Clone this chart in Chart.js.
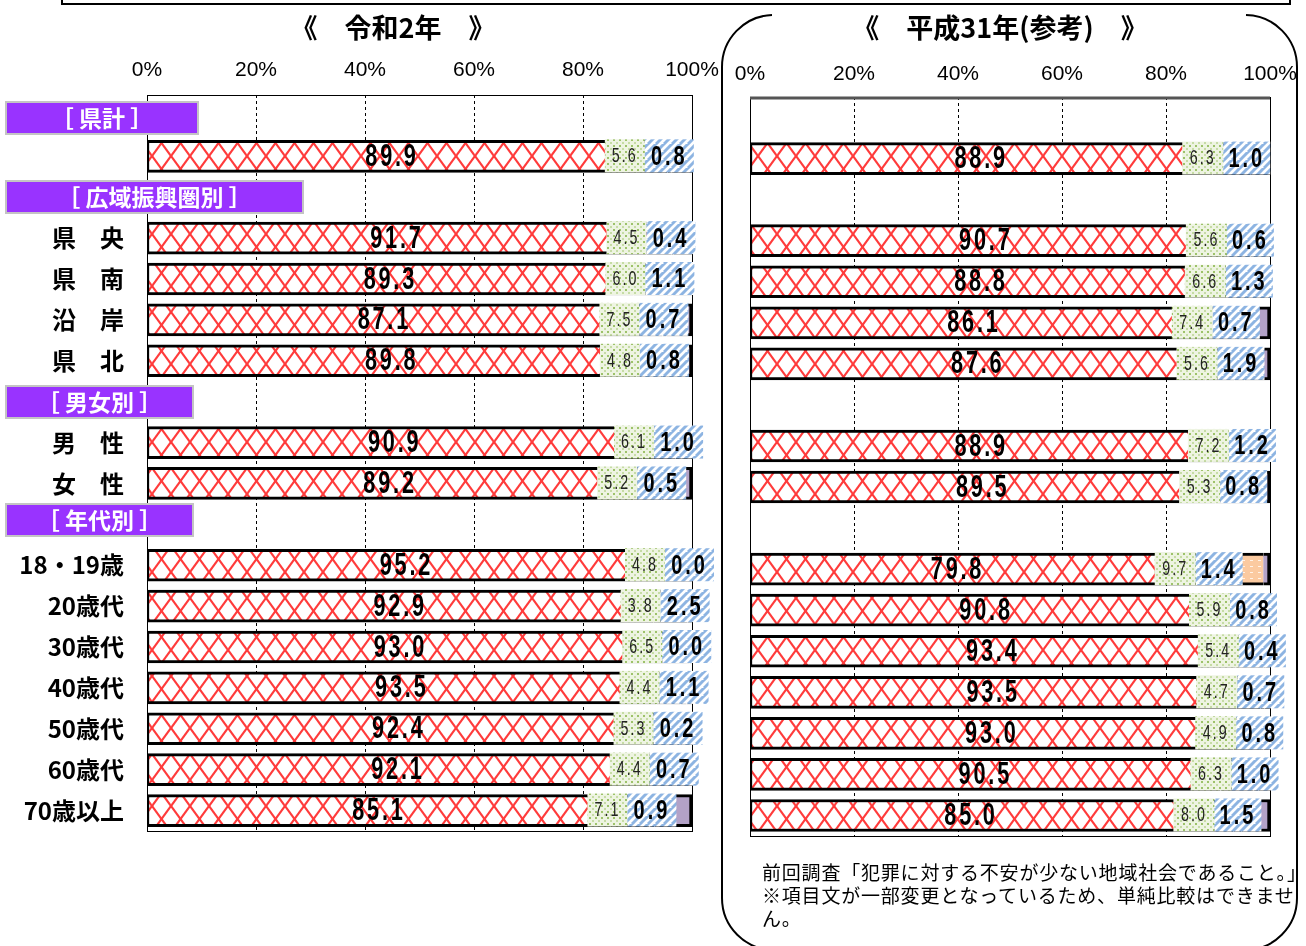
<!DOCTYPE html>
<html><head><meta charset="utf-8">
<script src="https://cdn.jsdelivr.net/npm/chart.js@4.4.1/dist/chart.umd.min.js"></script>
<style>
body{margin:0;width:1306px;height:946px;overflow:hidden;background:#fff;position:relative;font-family:"Noto Sans CJK JP",sans-serif;}
canvas{position:absolute;top:0;}
#c1{left:0;}
#c2{left:720px;}
svg{position:absolute;left:0;top:0;}
.hdr{position:absolute;left:5px;height:34px;box-sizing:border-box;background:#9933FF;border:2px solid #c4c4c4;color:#fff;font-weight:bold;font-size:23px;line-height:29px;text-align:center;white-space:nowrap;}
.title{position:absolute;top:9px;font-weight:bold;font-size:27px;line-height:36px;white-space:nowrap;transform:translateX(-50%);}
.note{position:absolute;left:762px;top:860px;font-size:19px;line-height:23px;letter-spacing:0.8px;white-space:nowrap;color:#000;}
</style>
</head><body>
<svg width="1306" height="946">
  <path d="M62 0 L62 4 L1290 4 L1290 0" fill="none" stroke="#000" stroke-width="2"/>
  <path d="M772 15 A52 52 0 0 0 722 67 L722 898 A52 52 0 0 0 774 950 L1245 950 A52 52 0 0 0 1297 898 L1297 67 A52 52 0 0 0 1246 15" fill="none" stroke="#000" stroke-width="2"/>
</svg>
<canvas id="c1" width="720" height="946"></canvas>
<canvas id="c2" width="586" height="946"></canvas>
<div class="title" style="left:393px">《　令和2年　》</div>
<div class="title" style="left:1000px">《　平成31年(参考)　》</div>
<div class="hdr" id="h0" style="top:101px;width:194px"></div>
<div class="hdr" id="h1" style="top:180px;width:299px"></div>
<div class="hdr" id="h2" style="top:385px;width:189px"></div>
<div class="hdr" id="h3" style="top:503px;width:189px"></div>
<div class="note" id="note"></div>
<script>
// ---- data ----
const categories = ['', '', '', '県　央', '県　南', '沿　岸', '県　北', '', '男　性', '女　性', '', '18・19歳', '20歳代', '30歳代', '40歳代', '50歳代', '60歳代', '70歳以上'];
const headers = ['［ 県計 ］', '［ 広域振興圏別 ］', '［ 男女別 ］', '［ 年代別 ］'];
const titleLeft = '《　令和2年　》';
const titleRight = '《　平成31年(参考)　》';
const noteLines = ['前回調査「犯罪に対する不安が少ない地域社会であること。」', '※項目文が一部変更となっているため、単純比較はできませ', 'ん。'];
const xTicks = [0, 20, 40, 60, 80, 100];

// 令和2年
const r2Red    = [null, 89.9, null, 91.7, 89.3, 87.1, 89.8, null, 90.9, 89.2, null, 95.2, 92.9, 93.0, 93.5, 92.4, 92.1, 85.1];
const r2Green  = [null, 5.6, null, 4.5, 6.0, 7.5, 4.8, null, 6.1, 5.2, null, 4.8, 3.8, 6.5, 4.4, 5.3, 4.4, 7.1];
const r2Blue   = [null, 0.8, null, 0.4, 1.1, 0.7, 0.8, null, 1.0, 0.5, null, 0.0, 2.5, 0.0, 1.1, 0.2, 0.7, 0.9];
const r2Orange = [null, null, null, null, null, null, null, null, null, null, null, null, null, null, null, null, null, null];
const r2Purple = [null, 3.7, null, 3.4, 3.6, 4.7, 4.6, null, 2.0, 5.1, null, 0.0, 0.8, 0.5, 1.0, 2.1, 2.8, 6.9];

// 平成31年（参考）
const h31Red    = [null, 88.9, null, 90.7, 88.8, 86.1, 87.6, null, 88.9, 89.5, null, 79.8, 90.8, 93.4, 93.5, 93.0, 90.5, 85.0];
const h31Green  = [null, 6.3, null, 5.6, 6.6, 7.4, 5.6, null, 7.2, 5.3, null, 9.7, 5.9, 5.4, 4.7, 4.9, 6.3, 8.0];
const h31Blue   = [null, 1.0, null, 0.6, 1.3, 0.7, 1.9, null, 1.2, 0.8, null, 1.4, 0.8, 0.4, 0.7, 0.8, 1.0, 1.5];
const h31Orange = [null, null, null, null, null, null, null, null, null, null, null, 7.8, null, null, null, null, null, null];
const h31Purple = [null, 3.8, null, 3.1, 3.3, 5.8, 4.9, null, 2.7, 4.4, null, 1.3, 2.5, 0.8, 1.1, 1.3, 2.2, 5.5];

// ---- text ----
headers.forEach((h, i) => document.getElementById('h' + i).textContent = h);
document.querySelectorAll('.title')[0].textContent = titleLeft;
document.querySelectorAll('.title')[1].textContent = titleRight;
document.getElementById('note').innerHTML = noteLines.join('<br>');

// ---- patterns ----
function mkPat(w, h, draw) {
  const c = document.createElement('canvas'); c.width = w; c.height = h;
  const x = c.getContext('2d'); draw(x, w, h);
  return x.createPattern(c, 'repeat');
}
const redPat = mkPat(19, 26, (x, w, h) => {
  x.fillStyle = '#fff'; x.fillRect(0, 0, w, h);
  x.strokeStyle = '#ff3b3b'; x.lineWidth = 2.2;
  x.beginPath(); x.moveTo(-w/2, -h/2); x.lineTo(w*1.5, h*1.5); x.stroke();
  x.beginPath(); x.moveTo(w*1.5, -h/2); x.lineTo(-w/2, h*1.5); x.stroke();
  x.beginPath(); x.moveTo(-w/2 - w, -h/2); x.lineTo(w*0.5, h*1.5); x.stroke();
  x.beginPath(); x.moveTo(w*0.5, -h/2 - h); x.lineTo(w*1.5 + w, h*1.5); x.stroke();
});
const greenPat = mkPat(6, 6, (x, w, h) => {
  x.fillStyle = '#eef4e2'; x.fillRect(0, 0, w, h);
  x.fillStyle = '#9dc26a'; x.fillRect(1, 1, 2, 2);
  x.fillStyle = '#c6dca5'; x.fillRect(4, 4, 2, 2);
});
const bluePat = mkPat(8, 8, (x, w, h) => {
  x.fillStyle = '#ffffff'; x.fillRect(0, 0, w, h);
  x.strokeStyle = '#8db4e2'; x.lineWidth = 3;
  for (let k = -1; k <= 2; k++) { x.beginPath(); x.moveTo(k*w - w, h); x.lineTo(k*w + w, -h); x.stroke(); }
});
const orangePat = mkPat(8, 6, (x, w, h) => {
  x.fillStyle = '#fbcaa0'; x.fillRect(0, 0, w, h);
  x.fillStyle = '#fff3e8'; x.fillRect(2, 2, 3, 1);
});
const purpleCol = '#b3a2c7';

const numFont = '"Liberation Sans","Arial",sans-serif';
const jpFont = '"Noto Sans CJK JP",sans-serif';

function narrowText(ctx, txt, x, y, font, sx, spacing) {
  ctx.save();
  ctx.font = font; ctx.letterSpacing = spacing;
  ctx.translate(x, y); ctx.scale(sx, 1);
  ctx.fillText(txt, 0, 0);
  ctx.restore();
}

function boxLabels(cfg) {
  return {
    id: 'boxLabels',
    afterDatasetsDraw(chart) {
      const ctx = chart.ctx, xs = chart.scales.x;
      const ds = chart.data.datasets;
      const red = ds[0].data, g = ds[1].data, b = ds[2].data;
      const meta = chart.getDatasetMeta(0);
      ctx.save();
      ctx.textAlign = 'center'; ctx.textBaseline = 'middle';
      red.forEach((v, i) => {
        if (v == null) return;
        const y = meta.data[i].y;
        const x0 = xs.getPixelForValue(0), x1 = xs.getPixelForValue(v);
        ctx.fillStyle = '#000';
        narrowText(ctx, v.toFixed(1), (x0 + x1) / 2, y + 1, 'bold 31px ' + numFont, 0.7, '4px');
        const bEnd = xs.getPixelForValue(v + g[i] + b[i]);
        const bR = bEnd + cfg.off, bL = bR - cfg.bw, gL = bL - cfg.gw;
        const top = y - 17, h = 33;
        ctx.fillStyle = greenPat; ctx.fillRect(gL, top, cfg.gw, h);
        ctx.fillStyle = bluePat; ctx.fillRect(bL, top, cfg.bw, h);
        ctx.fillStyle = '#222';
        narrowText(ctx, g[i].toFixed(1), gL + cfg.gw / 2, y, '21px ' + numFont, 0.68, '3px');
        ctx.fillStyle = '#000';
        narrowText(ctx, b[i].toFixed(1), bL + cfg.bw / 2, y + 1, 'bold 27px ' + numFont, 0.74, '4px');
      });
      ctx.restore();
    }
  };
}
function frame(cfg) {
  return {
    id: 'frame',
    beforeDatasetsDraw(chart) {
      const a = chart.chartArea, ctx = chart.ctx;
      ctx.save();
      ctx.strokeStyle = '#000'; ctx.lineWidth = 1;
      ctx.strokeRect(a.left + 0.5, a.top + 0.5, a.right - a.left, a.bottom - a.top);
      if (cfg.topThick) {
        ctx.strokeStyle = '#555'; ctx.lineWidth = 3;
        ctx.beginPath(); ctx.moveTo(a.left, a.top + 1); ctx.lineTo(a.right, a.top + 1); ctx.stroke();
      }
      ctx.restore();
    }
  };
}

function makeChart(id, d, cfg) {
  const bw = (l, r) => ({ top: 3, bottom: 3, left: l, right: r });
  new Chart(document.getElementById(id), {
    type: 'bar',
    data: {
      labels: categories,
      datasets: [
        { data: d.red, backgroundColor: redPat, borderColor: '#000', borderWidth: bw(2, 0), borderSkipped: false },
        { data: d.green, backgroundColor: greenPat, borderColor: '#000', borderWidth: bw(0, 0), borderSkipped: false },
        { data: d.blue, backgroundColor: bluePat, borderColor: '#000', borderWidth: bw(0, 0), borderSkipped: false },
        { data: d.orange, backgroundColor: orangePat, borderColor: '#000', borderWidth: bw(0, 0), borderSkipped: false },
        { data: d.purple, backgroundColor: purpleCol, borderColor: '#000', borderWidth: bw(0, 3), borderSkipped: false }
      ].map(s => Object.assign(s, { barThickness: 32 }))
    },
    options: {
      responsive: false, animation: false, indexAxis: 'y',
      layout: { padding: cfg.padding },
      plugins: { legend: { display: false }, tooltip: { enabled: false } },
      scales: {
        x: {
          position: 'top', stacked: true, min: 0, max: 100,
          afterBuildTicks: s => { s.ticks = xTicks.map(v => ({ value: v })); },
          ticks: { callback: v => v + '%', font: { family: numFont, size: 21 }, color: '#000', padding: cfg.tickPad, maxRotation: 0, autoSkip: false },
          grid: { color: '#000', lineWidth: 1, drawTicks: false },
          border: { display: false, dash: [3, 3] },
          afterFit: s => { s.height = cfg.axisH; s.paddingLeft = 0; s.paddingRight = 0; }
        },
        y: {
          display: cfg.showY, stacked: true,
          ticks: { font: { family: jpFont, size: 24, weight: 'bold' }, color: '#000', padding: 23 },
          grid: { display: false, drawTicks: false },
          border: { display: false },
          afterFit: s => { if (cfg.showY) s.width = 147; s.paddingTop = 0; s.paddingBottom = 0; }
        }
      }
    },
    plugins: [frame(cfg), boxLabels(cfg)]
  });
}

makeChart('c1', { red: r2Red, green: r2Green, blue: r2Blue, orange: r2Orange, purple: r2Purple },
  { padding: { left: 0, right: 28, top: 0, bottom: 115 }, axisH: 95, tickPad: 12, showY: true, off: 22, bw: 49, gw: 40, topThick: false });
makeChart('c2', { red: h31Red, green: h31Green, blue: h31Blue, orange: h31Orange, purple: h31Purple },
  { padding: { left: 30, right: 36, top: 0, bottom: 110 }, axisH: 97, tickPad: 10, showY: false, off: 20, bw: 47, gw: 41, topThick: true });
</script>
</body></html>
